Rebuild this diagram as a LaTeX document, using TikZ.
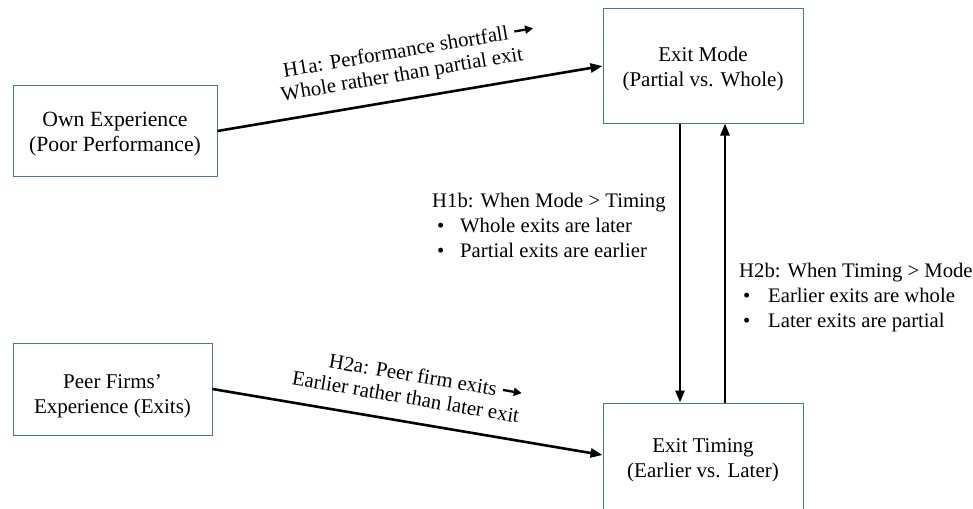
\documentclass[tikz,border=0pt]{standalone}
\usepackage{fontspec}
\setmainfont{Liberation Serif}
\usetikzlibrary{arrows.meta}
\definecolor{boxblue}{HTML}{4472C4}
\newsavebox\linkarrow
% strut that lowers a box caption a little
\newcommand\padtop[1]{\rule{0pt}{#1}}
\begin{document}
% short bold arrow used inside the hypothesis labels
\sbox\linkarrow{\begin{pgfpicture}%
  \pgfsetbaseline{0pt}%
  \pgfsetlinewidth{2.3pt}%
  \pgfsetarrowsend{Triangle[length=8pt,width=8pt]}%
  \pgfpathmoveto{\pgfpoint{0pt}{7pt}}%
  \pgfpathlineto{\pgfpoint{19pt}{7pt}}%
  \pgfusepath{stroke}%
\end{pgfpicture}}%
\begin{tikzpicture}[x=1pt,y=-1pt,
  every node/.style={font=\fontsize{21}{25}\selectfont},
  factor/.style={draw=boxblue, line width=1pt, inner sep=0pt, align=center},
  link/.style={line width=2.6pt, -{Triangle[length=12pt,width=9pt]}},
  hyp/.style={font=\fontsize{20.8}{23}\selectfont, inner sep=0pt, sloped},
  note/.style={anchor=north west, inner sep=0pt, align=left,
               font=\fontsize{20.7}{25}\selectfont}]
\useasboundingbox (0,0) rectangle (973,508);

% constructs
\node[factor, minimum width=204pt, minimum height=90pt,
      font=\fontsize{21.7}{25}\selectfont] (own) at (115,131)
  {\padtop{21pt}Own Experience\\(Poor Performance)};
\node[factor, minimum width=199pt, minimum height=92pt] (peer) at (112.5,389)
  {\padtop{28pt}Peer Firms’\\Experience (Exits)};
\node[factor, minimum width=200pt, minimum height=114pt] (mode) at (703,66)
  {\padtop{20pt}Exit Mode\\(Partial vs. Whole)};
\node[factor, minimum width=200pt, minimum height=110pt] (timing) at (703,458)
  {\padtop{19pt}Exit Timing\\(Earlier vs. Later)};

% hypothesised links
\draw[link] (own.east) -- node[hyp, above=13pt, pos=0.51, align=left]
  {\hspace*{6pt}H1a: Performance shortfall \usebox\linkarrow\\Whole rather than partial exit} (mode.west);
\draw[link] (peer.east) -- node[hyp, above=16pt, pos=0.485, align=right]
  {H2a: Peer firm exits \usebox\linkarrow\\Earlier rather than later exit} ([yshift=3pt]timing.west);
\draw[link] ([xshift=-23pt]mode.south) -- ([xshift=-23pt]timing.north);
\draw[link] ([xshift=22pt]timing.north) -- ([xshift=22pt]mode.south);

% explanations of the two directions
\node[note] (h1b) at (432,193)
  {H1b: When Mode > Timing\\
   \hspace*{5pt}\makebox[23pt][l]{•}Whole exits are later\\
   \hspace*{5pt}\makebox[23pt][l]{•}Partial exits are earlier};
\node[note] (h2b) at (739,263)
  {H2b: When Timing > Mode\\
   \hspace*{4pt}\makebox[25pt][l]{•}Earlier exits are whole\\
   \hspace*{4pt}\makebox[25pt][l]{•}Later exits are partial};
\end{tikzpicture}
\end{document}
